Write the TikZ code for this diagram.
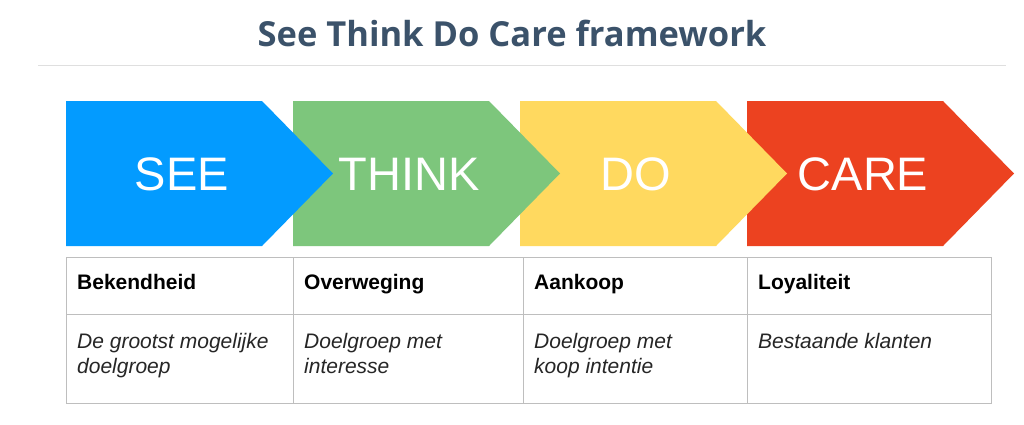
\documentclass[tikz,border=0pt]{standalone}
\usepackage{fontspec}
\setmainfont{Liberation Sans}
\newfontfamily\titlefont{Open Sans}
\usepackage{tikz}
\usetikzlibrary{positioning,calc}
\definecolor{seeblue}{RGB}{3,155,255}
\definecolor{thinkgreen}{RGB}{125,198,124}
\definecolor{doyellow}{RGB}{255,217,95}
\definecolor{carered}{RGB}{236,66,32}
\definecolor{titleblue}{RGB}{59,82,106}
\definecolor{gridgray}{RGB}{190,190,190}
\tikzset{
	phase/.style={text=white, font=\fontsize{47}{50}\selectfont},
	headcell/.style={anchor=base west, inner sep=0pt, font=\bfseries\fontsize{21}{25}\selectfont},
	bodycell/.style={anchor=base west, inner sep=0pt, align=left, text=black!85,
		font=\itshape\fontsize{21}{25}\selectfont},
}

\begin{document}
\begin{tikzpicture}[x=1pt, y=-1pt]
	\useasboundingbox[fill=white] (0,0) rectangle (1024,424);
	% title and rule
	\node[text=titleblue, font=\titlefont\bfseries\fontsize{34.5}{38}\selectfont] (title) at (512,33) {See Think Do Care framework};
	\draw[gridgray!50, line width=1pt] (38,65) -- (1006,65);
	% chevrons, drawn back to front
	\foreach \x/\col/\name/\lab in {747/carered/care/CARE, 520/doyellow/do/DO, 293/thinkgreen/think/THINK, 66/seeblue/see/SEE}{
		\fill[\col] (\x,101) -- ++(196,0) -- ++(71,72.5) -- ++(-71,72.5) -- ++(-196,0) -- cycle;
		\node[phase] (\name) at (\x+116,174) {\lab};
	}
	% table
	\draw[gridgray] (66,257) rectangle (991,403);
	\draw[gridgray] (66,314) -- (991,314);
	\foreach \x in {293,523,747}
		\draw[gridgray] (\x,257) -- (\x,403);
	\node[headcell] (h1) at (77,289) {Bekendheid};
	\node[headcell] (h2) at (304,289) {Overweging};
	\node[headcell] (h3) at (534,289) {Aankoop};
	\node[headcell] (h4) at (758,289) {Loyaliteit};
	% two-line cells sit on their last baseline
	\node[bodycell] (b1) at (77,373) {De grootst mogelijke\\doelgroep};
	\node[bodycell] (b2) at (304,373) {Doelgroep met\\interesse};
	\node[bodycell] (b3) at (534,373) {Doelgroep met\\koop intentie};
	\node[bodycell] (b4) at (758,348) {Bestaande klanten};
\end{tikzpicture}
\end{document}
